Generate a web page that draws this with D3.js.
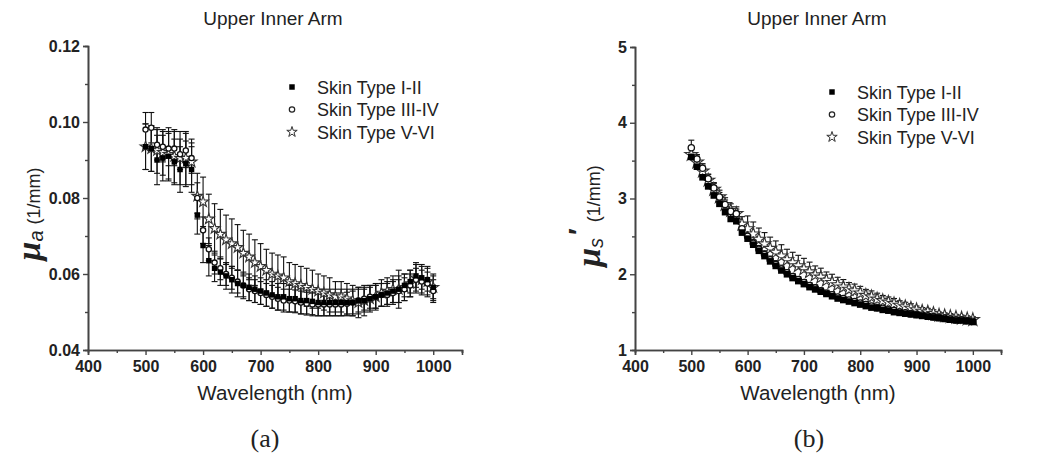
<!DOCTYPE html>
<html><head><meta charset="utf-8">
<script src="https://cdn.jsdelivr.net/npm/d3@7"></script>
<style>
body{margin:0;background:#fff;}
svg{display:block;font-family:"Liberation Sans",Arial,sans-serif;}
</style></head>
<body><svg id="c" width="1050" height="459"></svg>
<script>
const wavelengths = d3.range(500, 1001, 10);
const seriesNames = ["Skin Type I-II", "Skin Type III-IV", "Skin Type V-VI"];
const xTicks = [400, 500, 600, 700, 800, 900, 1000];
const muaTicks = [0.04, 0.06, 0.08, 0.10, 0.12];
const musTicks = [1, 2, 3, 4, 5];

// (a) absorption coefficient
const muaI = [0.0935,0.093,0.090,0.0905,0.091,0.0895,0.0875,0.089,0.0875,0.0755,0.0675,0.0635,0.0615,0.0605,0.0595,0.0585,0.0575,0.057,0.0565,0.056,0.0555,0.055,0.0545,0.054,0.054,0.0535,0.0535,0.053,0.053,0.0528,0.0525,0.0525,0.0525,0.0525,0.0525,0.0525,0.0525,0.053,0.053,0.0535,0.054,0.0545,0.055,0.0555,0.056,0.057,0.058,0.0595,0.059,0.0585,0.0565];
const muaIII = [0.098,0.0985,0.094,0.0935,0.093,0.093,0.0915,0.0925,0.0905,0.080,0.0715,0.0665,0.063,0.0615,0.060,0.059,0.058,0.057,0.056,0.0555,0.055,0.0545,0.054,0.0535,0.053,0.053,0.0528,0.0525,0.0522,0.052,0.052,0.052,0.052,0.052,0.052,0.0522,0.0525,0.053,0.0535,0.054,0.054,0.0545,0.0545,0.055,0.0555,0.056,0.057,0.0585,0.058,0.0575,0.0555];
const muaV = [0.0935,0.093,0.0925,0.092,0.0915,0.091,0.0905,0.0905,0.0895,0.0805,0.079,0.0745,0.072,0.0705,0.069,0.068,0.067,0.0655,0.0645,0.063,0.062,0.061,0.060,0.0595,0.059,0.058,0.0575,0.057,0.0565,0.056,0.0555,0.055,0.0545,0.054,0.054,0.0535,0.053,0.0525,0.053,0.0535,0.054,0.055,0.0555,0.056,0.056,0.0565,0.0575,0.059,0.0585,0.058,0.0565];
const muaErrI = [0.006,0.006,0.0065,0.006,0.006,0.006,0.006,0.006,0.006,0.005,0.0045,0.004,0.0035,0.0035,0.0035,0.0035,0.0035,0.0035,0.0035,0.0035,0.0035,0.0035,0.0035,0.0035,0.0035,0.0035,0.0035,0.0035,0.0035,0.0035,0.0035,0.0035,0.0035,0.0035,0.0035,0.0035,0.0035,0.0035,0.003,0.003,0.003,0.003,0.003,0.003,0.005,0.003,0.003,0.003,0.003,0.003,0.003];
const muaErrIII = [0.0045,0.004,0.004,0.004,0.0045,0.0045,0.004,0.0045,0.004,0.004,0.0035,0.003,0.003,0.003,0.003,0.003,0.003,0.003,0.003,0.003,0.003,0.003,0.003,0.003,0.003,0.003,0.003,0.003,0.003,0.003,0.003,0.003,0.003,0.003,0.003,0.003,0.003,0.003,0.003,0.003,0.003,0.003,0.003,0.003,0.003,0.003,0.003,0.003,0.003,0.003,0.003];
const muaErrV = [0.006,0.006,0.006,0.006,0.007,0.007,0.007,0.007,0.006,0.006,0.0065,0.0065,0.0065,0.0065,0.0065,0.0065,0.006,0.006,0.006,0.006,0.006,0.0055,0.0055,0.0055,0.0055,0.005,0.005,0.005,0.005,0.005,0.0045,0.0045,0.0045,0.004,0.004,0.004,0.004,0.004,0.004,0.0035,0.0035,0.0035,0.0035,0.0035,0.0035,0.0035,0.0035,0.004,0.004,0.004,0.0035];

// (b) reduced scattering coefficient
const musI = [3.55,3.42,3.28,3.16,3.04,2.93,2.82,2.73,2.70,2.55,2.47,2.39,2.31,2.24,2.17,2.11,2.05,2.00,1.95,1.91,1.87,1.83,1.80,1.77,1.74,1.71,1.68,1.66,1.64,1.62,1.60,1.58,1.56,1.55,1.53,1.52,1.50,1.49,1.48,1.47,1.46,1.45,1.44,1.43,1.42,1.41,1.40,1.39,1.39,1.38,1.37];
const musIII = [3.67,3.52,3.40,3.26,3.14,3.02,2.92,2.83,2.80,2.60,2.50,2.41,2.33,2.26,2.19,2.13,2.07,2.02,1.97,1.93,1.89,1.85,1.82,1.78,1.75,1.73,1.70,1.68,1.66,1.64,1.62,1.60,1.58,1.56,1.55,1.53,1.52,1.50,1.49,1.48,1.47,1.46,1.45,1.44,1.43,1.42,1.41,1.40,1.40,1.39,1.38];
const musV = [3.58,3.48,3.36,3.24,3.12,3.02,2.92,2.84,2.80,2.66,2.60,2.53,2.46,2.40,2.34,2.29,2.24,2.19,2.15,2.11,2.07,2.03,1.99,1.96,1.92,1.89,1.86,1.83,1.80,1.78,1.75,1.72,1.70,1.67,1.65,1.63,1.61,1.59,1.57,1.55,1.53,1.51,1.50,1.48,1.46,1.45,1.44,1.43,1.42,1.41,1.40];
const musErrI = [0.06,0.06,0.06,0.06,0.08,0.08,0.08,0.08,0.1,0.06,0.05,0.05,0.05,0.05,0.05,0.05,0.05,0.04,0.04,0.04,0.04,0.04,0.04,0.04,0.04,0.04,0.03,0.03,0.03,0.03,0.03,0.03,0.03,0.03,0.03,0.03,0.03,0.03,0.03,0.03,0.03,0.03,0.03,0.03,0.03,0.03,0.03,0.03,0.03,0.03,0.03];
const musErrIII = [0.1,0.06,0.06,0.06,0.06,0.06,0.06,0.06,0.06,0.06,0.05,0.05,0.05,0.05,0.05,0.05,0.05,0.04,0.04,0.04,0.04,0.04,0.04,0.04,0.04,0.04,0.03,0.03,0.03,0.03,0.03,0.03,0.03,0.03,0.03,0.03,0.03,0.03,0.03,0.03,0.03,0.03,0.03,0.03,0.03,0.03,0.03,0.03,0.03,0.03,0.03];
const musErrV = [0.08,0.08,0.08,0.08,0.09,0.09,0.09,0.09,0.09,0.1,0.17,0.16,0.15,0.15,0.15,0.15,0.15,0.14,0.14,0.14,0.14,0.13,0.12,0.12,0.11,0.11,0.1,0.1,0.09,0.09,0.09,0.08,0.08,0.08,0.07,0.07,0.07,0.06,0.06,0.06,0.05,0.05,0.05,0.05,0.04,0.04,0.04,0.04,0.04,0.04,0.04];

const svg = d3.select("#c");

function panel(opt) {
  const x = d3.scaleLinear().domain([400, 1050]).range(opt.xr);
  const y = d3.scaleLinear().domain(opt.yd).range(opt.yr);
  const starSym = d3.symbol().type(d3.symbolStar).size(opt.ms * 1.2);
  const sqSym = d3.symbol().type(d3.symbolSquare).size(opt.ms);
  const cr = Math.sqrt(opt.ms) / 2.1;
  const g = svg.append("g");
  // axes
  const xAx = d3.axisBottom(x).tickValues(xTicks).tickSize(5).tickPadding(6).tickFormat(d3.format("d"));
  const xMinor = d3.axisBottom(x).tickValues(d3.range(450, 1051, 100)).tickSize(3).tickFormat("");
  const yAx = d3.axisLeft(y).tickValues(opt.yTicks).tickSize(5).tickPadding(3).tickFormat(opt.fmt);
  const yMinor = d3.axisLeft(y).tickValues(opt.yMinor).tickSize(3).tickFormat("");
  [xAx, xMinor].forEach(a => g.append("g").attr("transform", `translate(0,${opt.yr[0]})`).call(a));
  [yAx, yMinor].forEach(a => g.append("g").attr("transform", `translate(${opt.xr[0]},0)`).call(a));
  g.selectAll(".domain").attr("stroke", "#444").attr("stroke-width", 1.6);
  g.selectAll(".tick line").attr("stroke", "#444").attr("stroke-width", 1.4);
  g.selectAll(".tick text").attr("font-family", "'Liberation Sans',Arial,sans-serif")
    .attr("font-size", 16).attr("font-weight", "bold").attr("fill", "#222");

  const series = [
    {v: opt.s[2], e: opt.e[2], type: "star"},
    {v: opt.s[1], e: opt.e[1], type: "circle"},
    {v: opt.s[0], e: opt.e[0], type: "square"}
  ];
  // error bars
  series.forEach(s => {
    const eb = g.append("g").attr("stroke", "#111").attr("stroke-width", 1.1);
    wavelengths.forEach((w, i) => {
      const cx = x(w), y0 = y(s.v[i]), y1 = y(s.v[i] + s.e[i]), y2 = opt.both ? y(s.v[i] - s.e[i]) : y0;
      eb.append("line").attr("x1", cx).attr("x2", cx).attr("y1", y1).attr("y2", y2);
      eb.append("line").attr("x1", cx - 3).attr("x2", cx + 3).attr("y1", y1).attr("y2", y1);
      if (opt.both) eb.append("line").attr("x1", cx - 3).attr("x2", cx + 3).attr("y1", y2).attr("y2", y2);
    });
  });
  // markers
  series.forEach(s => {
    const mg = g.append("g");
    wavelengths.forEach((w, i) => {
      const cx = x(w), cy = y(s.v[i]);
      if (s.type === "square") mg.append("path").attr("d", sqSym()).attr("transform", `translate(${cx},${cy})`).attr("fill", "#000");
      else if (s.type === "circle") mg.append("circle").attr("cx", cx).attr("cy", cy).attr("r", cr).attr("fill", "#fff").attr("stroke", "#111").attr("stroke-width", 1.3);
      else mg.append("path").attr("d", starSym()).attr("transform", `translate(${cx},${cy})`).attr("fill", "#fff").attr("stroke", "#333").attr("stroke-width", 1.1);
    });
  });
  // title
  g.append("text").attr("x", opt.titleX).attr("y", 25).attr("text-anchor", "middle")
    .attr("font-size", 19).attr("fill", "#222").text("Upper Inner Arm");
  // x label
  g.append("text").attr("x", (opt.xr[0] + x(1050)) / 2).attr("y", 400).attr("text-anchor", "middle")
    .attr("font-size", 20.5).attr("fill", "#222").text("Wavelength (nm)");
  // y label
  const yl = g.append("text").attr("transform", `translate(${opt.ylX},${opt.ylY}) rotate(-90)`)
    .attr("text-anchor", "middle").attr("fill", "#222");
  yl.append("tspan").attr("font-family", "'Liberation Serif','Times New Roman',serif").attr("font-style", "italic").attr("font-weight", "bold").attr("font-size", 34).text("\u03bc");
  yl.append("tspan").attr("font-style", "italic").attr("font-size", 20).attr("dy", 3).text(opt.sub);
  if (opt.prime) yl.append("tspan").attr("font-size", 28).attr("font-weight", "bold").attr("dy", -15).attr("dx", 3).text("\u2032");
  yl.append("tspan").attr("font-size", 18).attr("dy", opt.prime ? 12 : -3).attr("dx", 6).text("(1/mm)");
  // legend
  const lg = g.append("g");
  seriesNames.forEach((n, i) => {
    const ly = opt.legY + i * 22.5;
    if (i === 0) lg.append("path").attr("d", d3.symbol().type(d3.symbolSquare).size(30)()).attr("transform", `translate(${opt.legX},${ly})`).attr("fill", "#000");
    else if (i === 1) lg.append("circle").attr("cx", opt.legX).attr("cy", ly).attr("r", 2.7).attr("fill", "#fff").attr("stroke", "#222").attr("stroke-width", 1.2);
    else lg.append("path").attr("d", d3.symbol().type(d3.symbolStar).size(34)()).attr("transform", `translate(${opt.legX},${ly})`).attr("fill", "#fff").attr("stroke", "#333");
    lg.append("text").attr("x", opt.legX + 25).attr("y", ly + 6.5).attr("font-size", 18).attr("fill", "#222").text(n);
  });
  // panel letter
  g.append("text").attr("x", opt.titleX - 8).attr("y", 447).attr("text-anchor", "middle")
    .attr("font-family", "'Liberation Serif','Times New Roman',serif").attr("font-size", 26).attr("fill", "#222").text(opt.letter);
}

panel({xr: [88, 462], yd: [0.04, 0.12], yr: [350, 46], yTicks: muaTicks, yMinor: [0.05, 0.07, 0.09, 0.11],
  fmt: d3.format(".2f"), s: [muaI, muaIII, muaV], e: [muaErrI, muaErrIII, muaErrV], both: true, ms: 30,
  titleX: 273, ylX: 40, ylY: 214, sub: "a", prime: false, legX: 292, legY: 87, letter: "(a)"});
panel({xr: [635, 1001], yd: [1, 5], yr: [350, 47], yTicks: musTicks, yMinor: [1.5, 2.5, 3.5, 4.5],
  fmt: d3.format("d"), s: [musI, musIII, musV], e: [musErrI, musErrIII, musErrV], both: false, ms: 44,
  titleX: 817, ylX: 600, ylY: 216, sub: "s", prime: true, legX: 832, legY: 92, letter: "(b)"});
</script></body></html>
